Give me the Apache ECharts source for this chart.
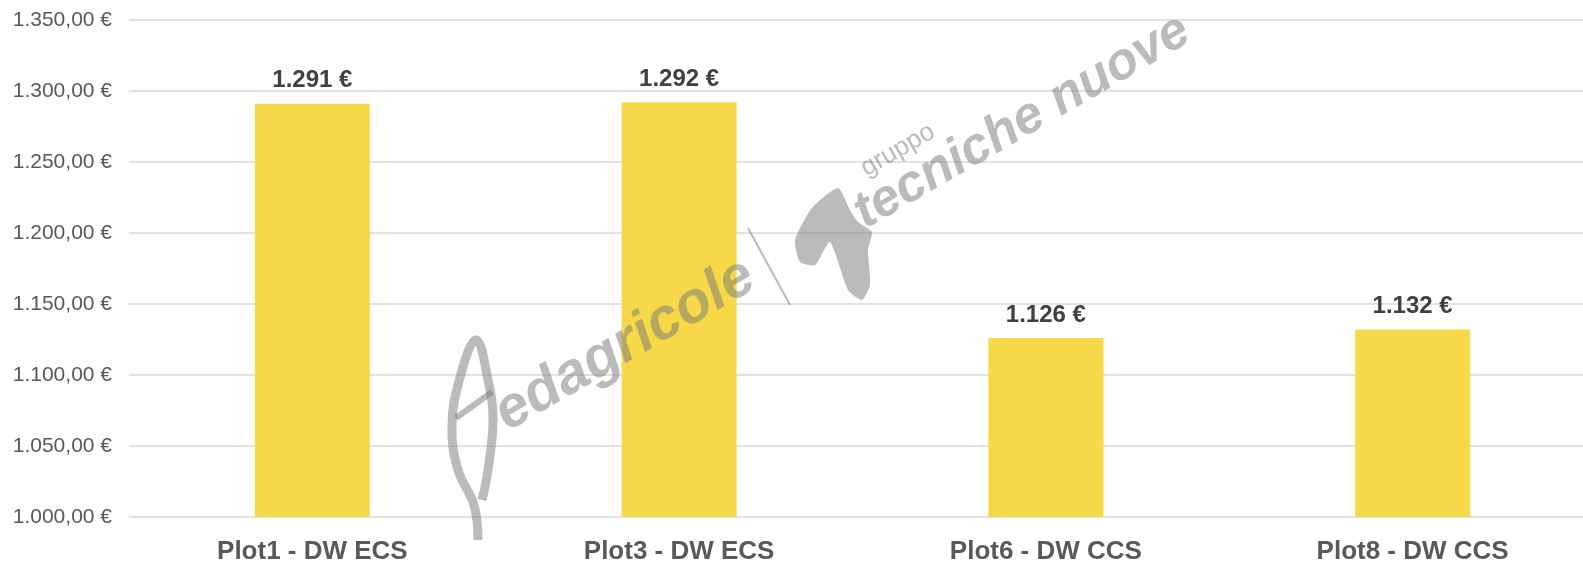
<!DOCTYPE html>
<html>
<head>
<meta charset="utf-8">
<script src="https://cdn.jsdelivr.net/npm/echarts@6/dist/echarts.min.js"></script>
<style>
  html, body { margin: 0; padding: 0; background: #fff; }
  #chart { width: 1583px; height: 561px; }
</style>
</head>
<body>
<div id="chart"></div>
<script>
const categories = ['Plot1 - DW ECS', 'Plot3 - DW ECS', 'Plot6 - DW CCS', 'Plot8 - DW CCS']
const prices = [1291, 1292, 1126, 1132]
const yMin = 1000
const yMax = 1350
const yStep = 50

const fmtAxis = (v) => {
    const s = v.toFixed(2).replace('.', ',')
    const [int, dec] = s.split(',')
    return int.replace(/\B(?=(\d{3})+(?!\d))/g, '.') + ',' + dec + ' €'
}
const fmtLabel = (v) => String(Math.round(v)).replace(/\B(?=(\d{3})+(?!\d))/g, '.') + ' €'

const wmColor = 'rgba(120,120,120,0.5)'
const font = 'Liberation Sans, Arial, sans-serif'

// watermark text helper
const wmText = (text, x, y, size, weight) => ({
    type: 'text',
    x: x, y: y,
    rotation: Math.PI / 6,
    z: 100,
    silent: true,
    style: {
        text: text,
        fill: wmColor,
        font: weight + ' ' + size + 'px ' + font,
        align: 'center',
        verticalAlign: 'middle'
    }
})

const echart = echarts.init(document.getElementById('chart'))
const options = {
    animation: false,
    textStyle: { fontFamily: font },
    grid: {
        left: 129,
        width: 1467,
        top: 20,
        bottom: 44,
        containLabel: false,
        outerBoundsMode: 'none'
    },
    xAxis: {
        type: 'category',
        data: categories,
        axisLine: { show: false },
        axisTick: { show: false },
        axisLabel: {
            color: '#595959',
            fontSize: 26,
            fontWeight: 'bold',
            margin: 22
        }
    },
    yAxis: {
        type: 'value',
        min: yMin,
        max: yMax,
        interval: yStep,
        axisLine: { show: false },
        axisTick: { show: false },
        axisLabel: {
            color: '#595959',
            fontSize: 21,
            margin: 17,
            formatter: fmtAxis
        },
        splitLine: {
            lineStyle: { color: '#D9D9D9', width: 1.5 }
        }
    },
    series: [
        {
            type: 'bar',
            data: prices,
            barWidth: 115,
            itemStyle: { color: '#F7D849' },
            label: {
                show: true,
                position: 'top',
                distance: 11,
                color: '#404040',
                fontSize: 24,
                fontWeight: 'bold',
                formatter: (p) => fmtLabel(p.value)
            }
        }
    ],
    graphic: [
        wmText('edagricole', 625, 345, 58, 'italic bold'),
        wmText('tecniche nuove', 1022, 122, 52, 'italic bold'),
        wmText('gruppo', 898, 150, 26, 'normal'),
        {
            type: 'line',
            z: 100,
            silent: true,
            shape: { x1: 748, y1: 228, x2: 790, y2: 305 },
            style: { stroke: wmColor, lineWidth: 2 }
        },
        {
            type: 'polygon',
            z: 100,
            silent: true,
            shape: {
                points: [[838, 188], [812, 208], [795, 240], [800, 262], [815, 265], [830, 242], [848, 290], [862, 300], [870, 285], [868, 250], [872, 232], [858, 222], [850, 210]],
                smooth: 0.2
            },
            style: { fill: wmColor }
        },
        {
            type: 'polyline',
            z: 100,
            silent: true,
            shape: {
                points: [[478, 540], [474, 505], [458, 470], [452, 430], [458, 385], [476, 340], [488, 380], [493, 420], [488, 470], [482, 500]],
                smooth: 0.4
            },
            style: { stroke: wmColor, lineWidth: 9, fill: null }
        },
        {
            type: 'line',
            z: 100,
            silent: true,
            shape: { x1: 456, y1: 418, x2: 492, y2: 392 },
            style: { stroke: wmColor, lineWidth: 6 }
        }
    ]
}
echart.setOption(options)
</script>
</body>
</html>
